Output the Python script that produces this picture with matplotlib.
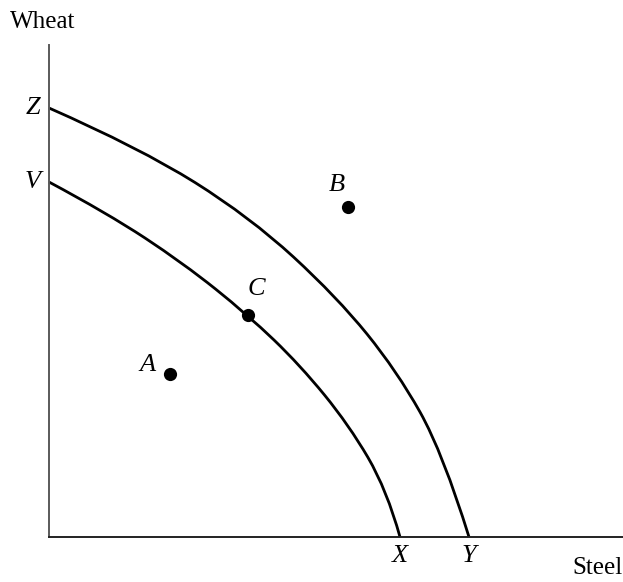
import matplotlib
matplotlib.use('Agg')
import matplotlib.pyplot as plt
from matplotlib.path import Path
from matplotlib.patches import PathPatch

# values, in pixels from the origin (x right, y up)
outer_x = [0, 91, 201, 288, 348, 394, 420]
outer_y = [429, 389, 320, 240, 166, 84, 0]
inner_x = [0, 58, 134, 199, 251, 300, 338, 351]
inner_y = [355, 324, 274, 222, 172, 112, 47, 0]

points = ['A', 'B', 'C']
point_x = [121, 299, 199]
point_y = [163, 330, 222]

W, H = 623, 582
x0, y0 = 49, 537  # origin in pixels
x_max, y_max = W - x0, y0 - 45


def smooth_path(xs, ys):
    # quadratic bezier through midpoints, control at each read point
    verts = [(xs[0], ys[0])]
    codes = [Path.MOVETO]
    n = len(xs)
    for i in range(1, n - 1):
        if i < n - 2:
            end = ((xs[i] + xs[i + 1]) / 2, (ys[i] + ys[i + 1]) / 2)
        else:
            end = (xs[-1], ys[-1])
        verts += [(xs[i], ys[i]), end]
        codes += [Path.CURVE3, Path.CURVE3]
    return Path(verts, codes)


def main():
    plt.rcParams['font.family'] = ['Liberation Serif', 'DejaVu Serif']
    fig = plt.figure(figsize=(W / 100, H / 100), dpi=100)
    ax = fig.add_axes([x0 / W, (H - y0) / H, (W - x0) / W, y_max / H])
    ax.set_xlim(0, x_max)
    ax.set_ylim(0, y_max)
    ax.set_xticks([])
    ax.set_yticks([])
    for s in ['top', 'right']:
        ax.spines[s].set_visible(False)
    ax.spines['left'].set_color('#5a5a5a')
    ax.spines['left'].set_linewidth(1.4)
    ax.spines['bottom'].set_color('#222222')
    ax.spines['bottom'].set_linewidth(1.4)

    for xs, ys in [(outer_x, outer_y), (inner_x, inner_y)]:
        ax.add_patch(PathPatch(smooth_path(xs, ys), facecolor='none',
                               edgecolor='black', lw=2, capstyle='butt',
                               clip_on=False))
    ax.plot(point_x, point_y, 'o', c='black', ms=9.5, mew=0)

    fs = 19
    offsets = {'A': (-23, 9), 'B': (-11, 22), 'C': (8, 26)}
    for name, px, py in zip(points, point_x, point_y):
        dx, dy = offsets[name]
        ax.text(px + dx, py + dy, name, style='italic', fontsize=fs,
                ha='center', va='center')

    ax.text(-16, outer_y[0], 'Z', style='italic', fontsize=fs,
            ha='center', va='center')
    ax.text(-16, inner_y[0], 'V', style='italic', fontsize=fs,
            ha='center', va='center')
    ax.text(inner_x[-1], -19, 'X', style='italic', fontsize=fs,
            ha='center', va='center')
    ax.text(outer_x[-1], -19, 'Y', style='italic', fontsize=fs,
            ha='center', va='center')

    fig.text(10 / W, 1 - 22 / H, 'Wheat', fontsize=18, ha='left',
             va='center')
    fig.text(1.0, 1 - 568 / H, 'Steel', fontsize=18, ha='right',
             va='center')

    fig.savefig('out.png', dpi=100)


if __name__ == '__main__':
    main()
